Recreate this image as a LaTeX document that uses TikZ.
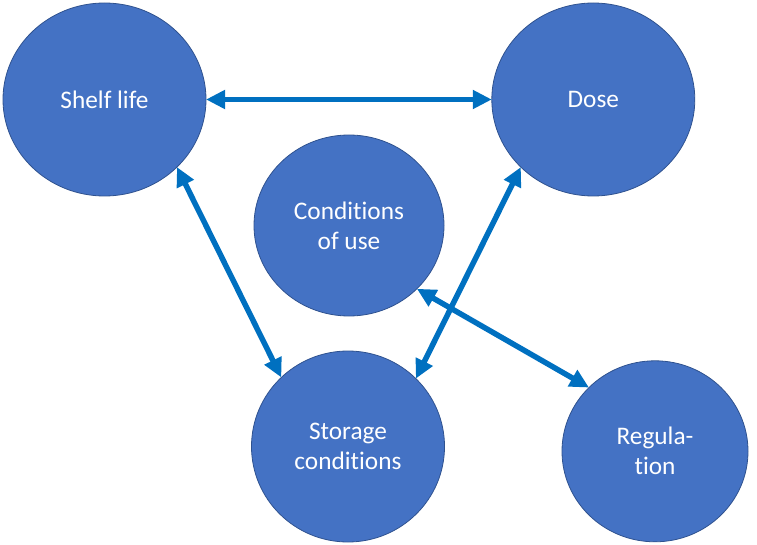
\documentclass[tikz,border=0pt]{standalone}
\usepackage{fontspec}
\setmainfont{Carlito}[Ligatures={NoCommon}]
\usetikzlibrary{shapes.geometric,arrows.meta}
\definecolor{nodefill}{HTML}{4472C4}
\definecolor{nodeline}{HTML}{2F528F}
\definecolor{arrowblue}{HTML}{0070C0}
\begin{document}
\begin{tikzpicture}[x=1pt,y=-1pt,
  bubble/.style={ellipse, fill=nodefill, draw=nodeline, line width=0.8pt,
    inner sep=0pt, outer sep=0pt, text=white, align=center,
    font=\fontsize{25.3pt}{30pt}\selectfont},
  link/.style={draw=arrowblue, line width=5.5pt,
    {Triangle[length=19pt,width=18pt]}-{Triangle[length=19pt,width=18pt]}}]
\useasboundingbox (0,0) rectangle (757,545);
\node[bubble, minimum width=203pt, minimum height=193pt] (shelf) at (104.5,99.5) {Shelf life};
\node[bubble, minimum width=203pt, minimum height=193pt] (dose) at (593.3,99.5) {Dose};
\node[bubble, minimum width=190pt, minimum height=181pt] (cond) at (349,225.5) {Conditions\\of use};
\node[bubble, minimum width=193pt, minimum height=191pt] (stor) at (348,446.5) {Storage\\conditions};
\node[bubble, minimum width=186pt, minimum height=181pt] (reg) at (655,451.3) {Regula-\\tion};
\draw[link] (shelf.east) -- (dose.west);
\draw[link] (shelf.-43.4) -- (stor.134.8);
\draw[link] (dose.223.9) -- (stor.45);
\draw[link] (cond.-43.6) -- (reg.136.6);
\end{tikzpicture}
\end{document}
